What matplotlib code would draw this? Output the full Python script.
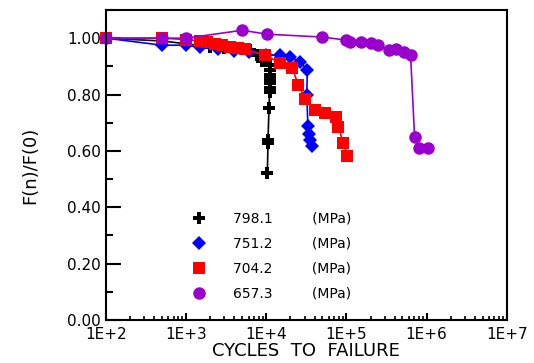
import numpy as np
import matplotlib
matplotlib.use("Agg")
import matplotlib.pyplot as plt
from matplotlib.lines import Line2D
from matplotlib.ticker import FuncFormatter, MultipleLocator, LogLocator

# stress levels (MPa)
stress_labels = ["798.1", "751.2", "704.2", "657.3"]

# 798.1 MPa
n_798 = [100, 500, 1000, 2000, 3000, 5000, 6300, 7700, 8900, 11200, 11200, 11200, 11200,
         11200, 11000, 11000, 10800, 10500, 10500, 10300]
f_798 = [1.00, 0.99, 0.98, 0.97, 0.965, 0.96, 0.957, 0.94, 0.92, 0.904, 0.887, 0.869, 0.855,
         0.840, 0.823, 0.809, 0.752, 0.638, 0.628, 0.521]

# 751.2 MPa
n_751 = [100, 500, 1000, 1500, 2500, 4000, 6000, 10000, 15000, 20000, 26600, 32500,
         32000, 33000, 34000, 35500, 37500]
f_751 = [1.00, 0.975, 0.975, 0.968, 0.96, 0.955, 0.95, 0.94, 0.94, 0.933, 0.915, 0.887,
         0.80, 0.69, 0.66, 0.64, 0.617]

# 704.2 MPa
n_704 = [100, 500, 1000, 1500, 1830, 2300, 2800, 3550, 4470, 5460, 9700, 15000, 21100,
         25100, 30700, 41000, 54600, 73000, 79400, 91700, 103000]
f_704 = [1.00, 1.00, 0.995, 0.99, 0.985, 0.978, 0.975, 0.97, 0.965, 0.96, 0.94, 0.911,
         0.894, 0.833, 0.784, 0.745, 0.734, 0.72, 0.684, 0.628, 0.582]

# 657.3 MPa
n_657 = [100, 500, 1000, 5000, 10300, 50000, 100000, 112000, 150000, 200000, 251000,
         335000, 410000, 516000, 631000, 708000, 795000, 1030000]
f_657 = [1.00, 1.00, 1.00, 1.028, 1.014, 1.004, 0.993, 0.986, 0.986, 0.982, 0.975,
         0.957, 0.96, 0.95, 0.94, 0.649, 0.61, 0.61]

series = [
    (n_798, f_798, "black", "P", 9),
    (n_751, f_751, "#0000ff", "D", 7),
    (n_704, f_704, "#ff0000", "s", 9),
    (n_657, f_657, "#9900cc", "o", 9),
]

fig = plt.figure(figsize=(5.34, 3.63), dpi=100)
ax = fig.add_axes([0.1985, 0.1185, 0.7505, 0.854])

for n, f, col, mk, ms in series:
    ax.plot(n, f, color=col, marker=mk, markersize=ms, linewidth=1.2,
            markeredgewidth=0, clip_on=False)

ax.set_xscale("log")
ax.set_xlim(100, 1e7)
ax.set_ylim(0, 1.10)

ax.yaxis.set_major_locator(MultipleLocator(0.2))
ax.yaxis.set_minor_locator(MultipleLocator(0.1))
ax.yaxis.set_major_formatter(FuncFormatter(lambda v, p: f"{v:.2f}" if v <= 1.001 else ""))
ax.xaxis.set_major_locator(LogLocator(base=10))
ax.xaxis.set_minor_locator(LogLocator(base=10, subs=np.arange(2, 10)))
ax.xaxis.set_major_formatter(FuncFormatter(lambda v, p: f"1E+{int(round(np.log10(v)))}"))

ax.tick_params(axis="y", which="major", direction="in", length=11, width=1.5, labelsize=11)
ax.tick_params(axis="y", which="minor", direction="in", length=5, width=1.5)
ax.tick_params(axis="x", which="major", direction="in", length=5, width=1.5, labelsize=11, pad=5)
ax.tick_params(axis="x", which="minor", direction="in", length=3, width=1.2)

for s in ax.spines.values():
    s.set_linewidth(1.5)

ax.set_xlabel("CYCLES  TO  FAILURE", fontsize=13, labelpad=0)
ax.set_ylabel("F(n)/F(0)", fontsize=13, labelpad=20)

handles = [Line2D([], [], color=col, marker=mk, markersize=ms, linestyle="none",
                  markeredgewidth=0) for _, _, col, mk, ms in series]
labels = [f"{s}         (MPa)" for s in stress_labels]
ax.legend(handles, labels, loc="upper left", bbox_to_anchor=(0.165, 0.39), frameon=False,
          fontsize=10, labelspacing=0.8, handletextpad=1.5)

fig.savefig("out.png", dpi=100)
